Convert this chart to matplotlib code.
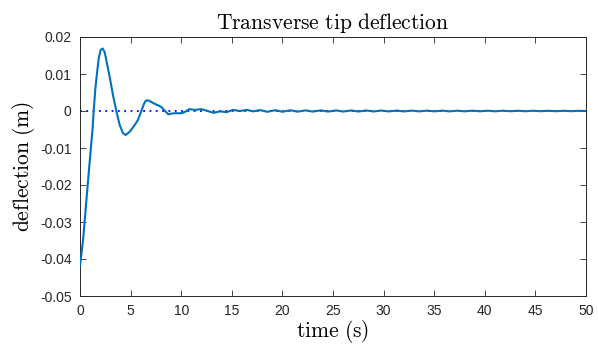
import numpy as np
import matplotlib
matplotlib.use("Agg")
import matplotlib.pyplot as plt

# tip deflection (time in s, deflection in m)
t_early = [0.0, 0.13, 0.30, 0.46, 0.66, 0.86, 1.06, 1.25, 1.35, 1.52, 1.68,
           1.85, 2.04, 2.24, 2.44, 2.70, 2.96, 3.26, 3.59, 3.92, 4.25, 4.51,
           4.91, 5.40, 5.73, 6.06, 6.30, 6.45, 6.62, 6.80, 7.0, 7.41, 7.75,
           8.07, 8.4, 8.73, 9.05, 9.39, 10.05, 10.4, 10.8, 11.36, 12.0, 12.5,
           13.2, 13.8, 14.5, 15.1, 15.8, 16.5, 17.1]
y_early = [-0.0418, -0.0389, -0.0349, -0.0299, -0.0232, -0.0168, -0.0105,
           -0.0045, 0.0, 0.0061, 0.0102, 0.0142, 0.0165, 0.0169, 0.0159,
           0.0124, 0.0088, 0.0043, 0.0, -0.0038, -0.0060, -0.0065, -0.0056,
           -0.0038, -0.0024, 0.0, 0.0018, 0.0026, 0.0029, 0.0028, 0.0025,
           0.0019, 0.0015, 0.0010, 0.0, -0.0009, -0.0007, -0.0006, -0.0006,
           -0.0002, 0.0005, 0.0003, 0.0005, 0.0001, -0.0005, -0.0001, -0.0003,
           0.0003, 0.0000, 0.0003, -0.0001]
t_tail = [17.8, 18.5, 19.3, 20.0, 20.8, 21.5, 22.3, 23.0, 23.8, 24.5, 25.3,
          26.0, 26.8, 27.5, 28.3, 29.0, 29.8, 30.5, 31.3, 32.0, 32.8, 33.5,
          34.3, 35.0, 35.8, 36.5, 37.3, 38.0, 38.8, 39.5, 40.3, 41.0, 41.8,
          42.5, 43.3, 44.0, 44.8, 45.5, 46.3, 47.0, 47.8, 48.5, 49.3, 50.0]
y_tail = [0.00025, -0.00022, 0.00022, -0.0002, 0.0002, -0.00018, 0.00018,
          -0.00017, 0.00017, -0.00016, 0.00016, -0.00015, 0.00015, -0.00014,
          0.00014, -0.00013, 0.00013, -0.00012, 0.00012, -0.00012, 0.00011,
          -0.00011, 0.0001, -0.0001, 0.0001, -0.0001, 0.00009, -0.00009,
          0.00009, -0.00008, 0.00008, -0.00008, 0.00008, -0.00007, 0.00007,
          -0.00007, 0.00007, -0.00006, 0.00006, -0.00006, 0.00006, -0.00005,
          0.00005, 0.0]

t = np.array(t_early + t_tail)
y = np.array(y_early + y_tail)

x_ticks = [0, 5, 10, 15, 20, 25, 30, 35, 40, 45, 50]
y_ticks = [-0.05, -0.04, -0.03, -0.02, -0.01, 0, 0.01, 0.02]
y_ticklabels = ["-0.05", "-0.04", "-0.03", "-0.02", "-0.01", "0", "0.01", "0.02"]

plt.rcParams['mathtext.fontset'] = 'cm'
plt.rcParams['font.family'] = ['Liberation Sans', 'DejaVu Sans']

fig = plt.figure(figsize=(5.98, 3.46), dpi=100)
ax = fig.add_axes([80 / 598, 50 / 346, 506 / 598, 259 / 346])

ax.plot(t, y, color='#0072BD', lw=1.5, zorder=3, solid_joinstyle='round')
ax.plot([0, 50], [0, 0], color='blue', ls=(0, (1, 2.5)), lw=1.3, zorder=2)

ax.set_xlim(0, 50)
ax.set_ylim(-0.05, 0.02)
ax.set_xticks(x_ticks)
ax.set_yticks(y_ticks)
ax.set_yticklabels(y_ticklabels)

ax.tick_params(direction='in', top=True, right=True, length=4.5, width=0.6,
               colors='#262626', labelsize=10, pad=6)
for s in ax.spines.values():
    s.set_linewidth(0.7)
    s.set_color('#262626')

ax.set_title(r'$\mathrm{Transverse\ tip\ deflection}$', fontsize=15.5, pad=6)
ax.set_xlabel(r'$\mathrm{time\ (s)}$', fontsize=15.5, labelpad=0)
ax.set_ylabel(r'$\mathrm{deflection\ (m)}$', fontsize=15.5, labelpad=2)

fig.savefig('out.png', dpi=100)
